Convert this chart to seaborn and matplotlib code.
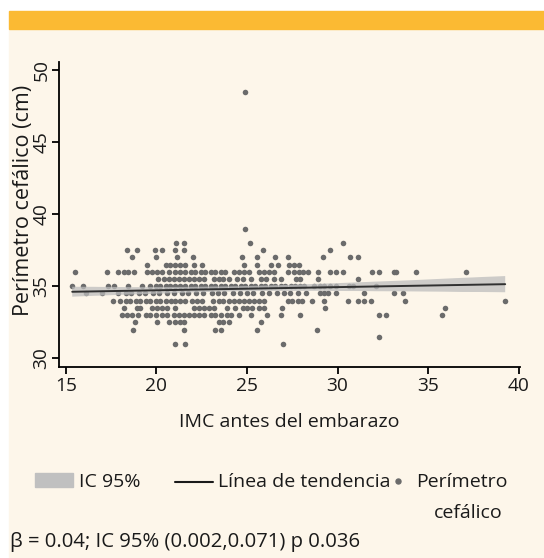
import matplotlib
matplotlib.use("Agg")
import matplotlib.pyplot as plt
from matplotlib.collections import PolyCollection
from matplotlib.patches import Rectangle
from matplotlib.lines import Line2D
import seaborn as sns
import pandas as pd

# perímetro cefálico levels (cm) and the IMC values read at each level
pc_levels = [48.5, 39, 38, 37.5, 37, 36.5, 36, 35.5, 35, 34.5, 34, 33.5, 33, 32.5, 32, 31.5, 31]

imc_48_5 = [24.9]
imc_39 = [24.9]
imc_38 = [21.1, 21.5, 25.15, 30.3]
imc_37_5 = [18.4, 18.9, 19.9, 20.3, 21.05, 21.5, 25.9, 29.6]
imc_37 = [18.65, 20.0, 21.15, 22.0, 24.7, 25.55, 26.55, 27.25, 29.2, 30.7, 31.1]
imc_36_5 = [19.5, 20.5, 20.75, 21.05, 21.3, 21.6, 22.05, 22.5, 24.85, 25.55, 26.3,
            26.7, 27.3, 27.6, 27.85]
imc_36 = [15.5, 17.25, 17.9, 18.2, 18.45, 18.75, 19.5, 19.75, 20.05, 20.3, 20.7, 21.05,
          21.3, 21.6, 21.88, 22.15, 22.45, 22.7, 23.0, 23.25, 23.55, 23.8, 24.3, 24.55,
          24.85, 25.1, 25.65, 25.95, 26.2, 26.5, 27.25, 27.6, 27.85, 28.1, 28.35, 28.9,
          29.6, 29.9, 30.3, 31.9, 32.3, 33.1, 33.2, 34.35, 37.1]
imc_35_5 = [20.1, 20.4, 20.7, 20.95, 21.25, 21.5, 21.8, 22.05, 22.35, 22.6, 23.15, 23.45,
            23.7, 24.0, 24.45, 24.75, 25.2, 25.75, 26.05, 26.5, 26.85, 27.7, 27.95, 28.9,
            31.1]
imc_35 = [15.35, 15.95, 17.35, 17.65, 18.45, 19.2, 19.65, 19.95, 20.2, 20.5, 20.75, 21.05,
          21.3, 21.6, 21.9, 22.15, 22.45, 22.7, 23.0, 23.25, 23.55, 23.8, 24.1, 24.35,
          24.65, 24.9, 25.2, 25.45, 25.75, 26.0, 26.3, 26.55, 26.85, 27.1, 27.4, 27.65,
          27.95, 28.15, 28.7, 29.0, 29.25, 29.6, 29.9, 30.65, 30.85, 32.1]
imc_34_5 = [16.1, 17.0, 17.9, 18.3, 18.6, 19.05, 19.35, 19.8, 20.15, 20.6, 20.95, 21.4,
            21.75, 22.2, 22.55, 23.05, 23.4, 23.75, 24.2, 24.6, 25.0, 25.35, 25.85, 26.2,
            26.65, 27.05, 27.35, 27.8, 28.25, 29.0, 29.25, 29.45, 29.9, 31.45, 33.1, 33.6]
imc_34 = [17.6, 18.0, 18.3, 18.55, 18.85, 19.1, 19.4, 19.65, 19.95, 20.2, 20.5, 20.8,
          21.05, 21.3, 21.6, 21.95, 22.25, 22.5, 23.1, 23.45, 23.7, 24.0, 24.3, 24.55,
          24.85, 25.1, 25.4, 25.65, 25.95, 27.25, 27.5, 27.8, 28.05, 28.6, 29.25, 30.55,
          31.1, 31.45, 31.85, 33.7, 39.25]
imc_33_5 = [18.2, 18.9, 19.1, 19.75, 20.05, 20.3, 20.6, 21.05, 22.05, 22.35, 22.6, 22.9,
            23.15, 23.9, 24.35, 24.75, 25.0, 25.3, 25.65, 25.95, 26.95, 29.3, 35.9]
imc_33 = [18.1, 18.35, 18.65, 19.0, 19.4, 19.65, 20.0, 20.3, 20.6, 20.95, 21.25, 21.5,
          21.8, 22.05, 22.35, 22.6, 23.0, 23.25, 23.55, 23.9, 24.1, 24.55, 25.2, 26.1,
          26.85, 27.9, 32.3, 32.65, 35.75]
imc_32_5 = [18.8, 20.05, 20.7, 21.05, 21.3, 21.5, 23.45, 23.7, 24.0, 25.75]
imc_32 = [18.7, 21.5, 23.25, 23.55, 25.55, 28.85]
imc_31_5 = [32.3]
imc_31 = [21.05, 21.55, 27.0]

imc_lists = [imc_48_5, imc_39, imc_38, imc_37_5, imc_37, imc_36_5, imc_36, imc_35_5,
             imc_35, imc_34_5, imc_34, imc_33_5, imc_33, imc_32_5, imc_32, imc_31_5, imc_31]

x_ticks = [15, 20, 25, 30, 35, 40]
y_ticks = [30, 35, 40, 45, 50]

df = pd.DataFrame(
    [(x, pc) for pc, xs in zip(pc_levels, imc_lists) for x in xs],
    columns=["imc", "pc"],
)

sns.set_style("ticks")
plt.rcParams["font.family"] = ["Open Sans", "DejaVu Sans"]

W, H = 544, 558
CREAM = "#fdf6ea"
FS = 14
TXT = "#1a1a1a"
fig = plt.figure(figsize=(W / 100, H / 100), dpi=100, facecolor="white")


def fx(px):
    return px / W


def fy(py):
    return 1 - py / H


# page background and orange band
fig.patches.append(Rectangle((fx(9), 0), 1, fy(30), transform=fig.transFigure,
                             color=CREAM, zorder=-10))
fig.patches.append(Rectangle((fx(9), fy(29)), 1, 18 / H, transform=fig.transFigure,
                             color="#fbba33", zorder=-10))

ax = fig.add_axes([fx(59), fy(367), (519.5 - 59) / W, (367 - 62) / H])
ax.set_facecolor("none")

sns.regplot(data=df, x="imc", y="pc", ax=ax, ci=95, seed=7,
            scatter_kws=dict(s=16, color="#6b6b6b", linewidths=0, alpha=1),
            line_kws=dict(color="#303030", lw=1.4))

for coll in ax.collections:
    if isinstance(coll, PolyCollection):
        coll.set_facecolor("#bdbdbd")
        coll.set_edgecolor("none")
        coll.set_alpha(0.75)

ax.set_xlim(14.62, 40.04)
ax.set_ylim(29.4, 50.55)
ax.set_xticks(x_ticks)
ax.set_yticks(y_ticks)
sns.despine(ax=ax)
for s in ["left", "bottom"]:
    ax.spines[s].set_linewidth(1.3)
    ax.spines[s].set_color("black")
ax.tick_params(axis="both", length=5, width=1.3, color="black", labelsize=13.8,
               labelcolor=TXT)
ax.tick_params(axis="x", pad=2.5)
ax.tick_params(axis="y", labelrotation=90, pad=1)
for lab in ax.get_yticklabels():
    lab.set_va("center")

ax.set_xlabel("IMC antes del embarazo", fontsize=FS, color=TXT)
ax.xaxis.set_label_coords(0.5, (367 - 413) / 305)
ax.set_ylabel("Perímetro cefálico (cm)", fontsize=15.5, color=TXT)
ax.yaxis.set_label_coords((34 - 59) / 460.5, (367 - 200) / 305)

# legend below the plot
fig.patches.append(Rectangle((fx(35), fy(487)), 38 / W, 14 / H, transform=fig.transFigure,
                             color="#c0c0c0"))
fig.add_artist(Line2D([fx(175), fx(213)], [fy(482), fy(482)], color=TXT, lw=1.5))
fig.add_artist(Line2D([fx(398)], [fy(481)], marker="o", ms=3.6, color="#6b6b6b", lw=0))
tkw = dict(fontsize=FS, color=TXT, va="baseline")
fig.text(fx(79), fy(487), "IC 95%", ha="left", **tkw)
fig.text(fx(218), fy(487), "Línea de tendencia", ha="left", **tkw)
fig.text(fx(508), fy(487), "Perímetro", ha="right", **tkw)
fig.text(fx(503), fy(518), "cefálico", ha="right", **tkw)
fig.text(fx(10), fy(547), "β = 0.04; IC 95% (0.002,0.071) p 0.036", ha="left",
         fontsize=14.6, color=TXT, va="baseline")

fig.savefig("out.png", dpi=100, facecolor="white")
